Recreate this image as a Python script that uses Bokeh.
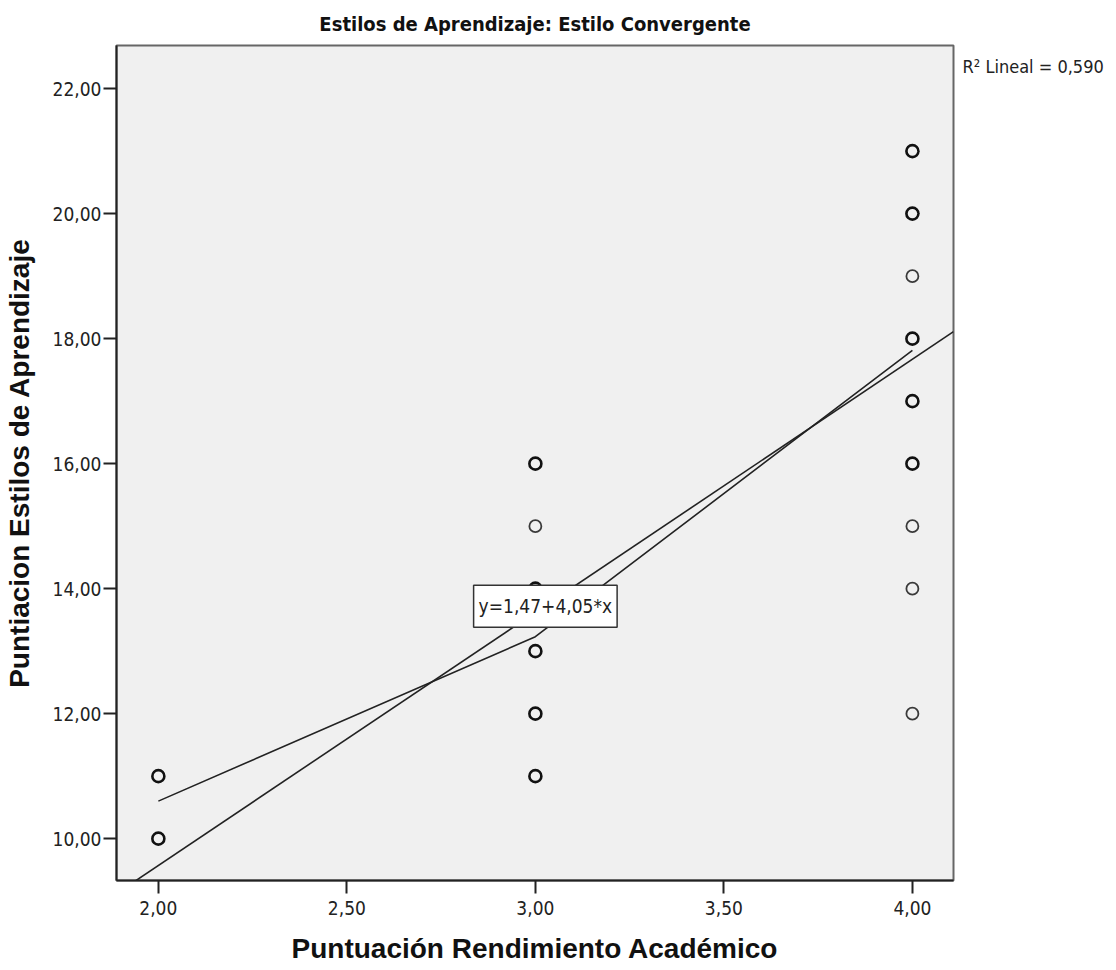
from bokeh.plotting import figure
from bokeh.models import Label, FixedTicker, Range1d, ColumnDataSource, LinearAxis
from bokeh.embed import file_html
from bokeh.resources import INLINE

# Academic performance score (x) vs. convergent learning-style score (y).
# Each row is one distinct (x, y) pair with the number of students at it.
perf_score = [2, 2,
              3, 3, 3, 3, 3, 3,
              4, 4, 4, 4, 4, 4, 4, 4, 4]
style_score = [11, 10,
               16, 15, 14, 13, 12, 11,
               21, 20, 19, 18, 17, 16, 15, 14, 12]
n_students = [3, 2,
              2, 1, 2, 3, 3, 2,
              3, 3, 1, 2, 2, 2, 1, 1, 1]

# Linear fit reported by the analysis
fit_intercept = 1.47
fit_slope = 4.05
r_squared = 0.590

x_ticks = [2.0, 2.5, 3.0, 3.5, 4.0]
x_tick_labels = ["2,00", "2,50", "3,00", "3,50", "4,00"]
y_ticks = [10, 12, 14, 16, 18, 20, 22]
y_tick_labels = ["10,00", "12,00", "14,00", "16,00", "18,00", "20,00", "22,00"]

title_text = "Estilos de Aprendizaje: Estilo Convergente"
x_label = "Puntuación Rendimiento Académico"
y_label = "Puntiacion Estilos de Aprendizaje"

NARROW = "'DejaVu Sans Condensed', 'Liberation Sans Narrow', sans-serif"
WIDE = "'Liberation Sans', Arial, sans-serif"

x0, x1 = 1.889, 4.109
y0, y1 = 9.33, 22.69

p = figure(width=1116, height=970, output_backend="svg", toolbar_location=None,
           x_range=Range1d(x0, x1), y_range=Range1d(y0, y1),
           min_border_left=116, min_border_right=163,
           min_border_top=45, min_border_bottom=90)

p.background_fill_color = "#f0f0f0"
p.border_fill_color = "white"
p.grid.visible = False
p.outline_line_color = "#666666"
p.outline_line_width = 2

# title
p.title.text = title_text
p.title.align = "center"
p.title.text_font = NARROW
p.title.text_font_size = "20px"
p.title.text_font_style = "bold"
p.title.text_color = "#111111"
p.title.standoff = 19

# axes
for ax in (p.xaxis[0], p.yaxis[0]):
    ax.axis_line_color = "#222222"
    ax.axis_line_width = 2
    ax.major_tick_line_color = "#222222"
    ax.major_tick_line_width = 2
    ax.major_tick_out = 13
    ax.major_tick_in = 0
    ax.minor_tick_line_color = None
    ax.major_label_text_font = NARROW
    ax.major_label_text_font_size = "19px"
    ax.major_label_text_color = "#222222"
    ax.axis_label_text_font = WIDE
    ax.axis_label_text_font_size = "28px"
    ax.axis_label_text_font_style = "bold"
    ax.axis_label_text_color = "#111111"

p.xaxis.ticker = FixedTicker(ticks=x_ticks)
p.xaxis.major_label_overrides = dict(zip(x_ticks, x_tick_labels))
p.yaxis.ticker = FixedTicker(ticks=y_ticks)
p.yaxis.major_label_overrides = dict(zip(y_ticks, y_tick_labels))
p.xaxis.axis_label = x_label
p.yaxis.axis_label = y_label
p.xaxis.major_label_standoff = 7
p.yaxis.major_label_standoff = 2
p.xaxis.axis_label_standoff = 15
p.yaxis.axis_label_standoff = 15

# R² note beside the top-right corner, carried by a bare right-hand axis
r2_text = "R² Lineal = " + f"{r_squared:.3f}".replace(".", ",")
r2_at = 22.35
r2_axis = LinearAxis(ticker=FixedTicker(ticks=[r2_at]),
                     major_label_overrides={r2_at: r2_text},
                     axis_line_color=None, major_tick_line_color=None,
                     minor_tick_line_color=None, major_label_standoff=3,
                     major_label_text_font=NARROW, major_label_text_font_size="18px",
                     major_label_text_color="#222222")
p.add_layout(r2_axis, "right")

# scatter: overlapping students render as a heavier ring
src = ColumnDataSource(dict(
    x=perf_score, y=style_score, n=n_students,
    lw=[2.6 if n > 1 else 1.8 for n in n_students],
    lc=["#111111" if n > 1 else "#3a3a3a" for n in n_students],
))
p.scatter("x", "y", source=src, marker="circle", size=12,
          fill_color=None, line_color="lc", line_width="lw")

# line through the group means
groups = sorted(set(perf_score))
mean_y = []
for g in groups:
    tot = sum(y * n for x, y, n in zip(perf_score, style_score, n_students) if x == g)
    cnt = sum(n for x, n in zip(perf_score, n_students) if x == g)
    mean_y.append(tot / cnt)
p.line(groups, mean_y, line_color="#222222", line_width=1.6)

# linear fit across the box
fx = [x0, x1]
fy = [fit_intercept + fit_slope * v for v in fx]
p.line(fx, fy, line_color="#222222", line_width=1.6)

# equation box (padding: left, right, top, bottom)
eq = Label(x=3.0265, y=13.72, text="y=1,47+4,05*x",
           text_align="center", text_baseline="middle",
           text_font=NARROW, text_font_size="19px", text_color="#222222",
           background_fill_color="white", border_line_color="#333333",
           border_line_width=1.5, padding=(5, 5, 10, 10))
p.add_layout(eq)

open("out.html", "w").write(file_html(p, INLINE))
